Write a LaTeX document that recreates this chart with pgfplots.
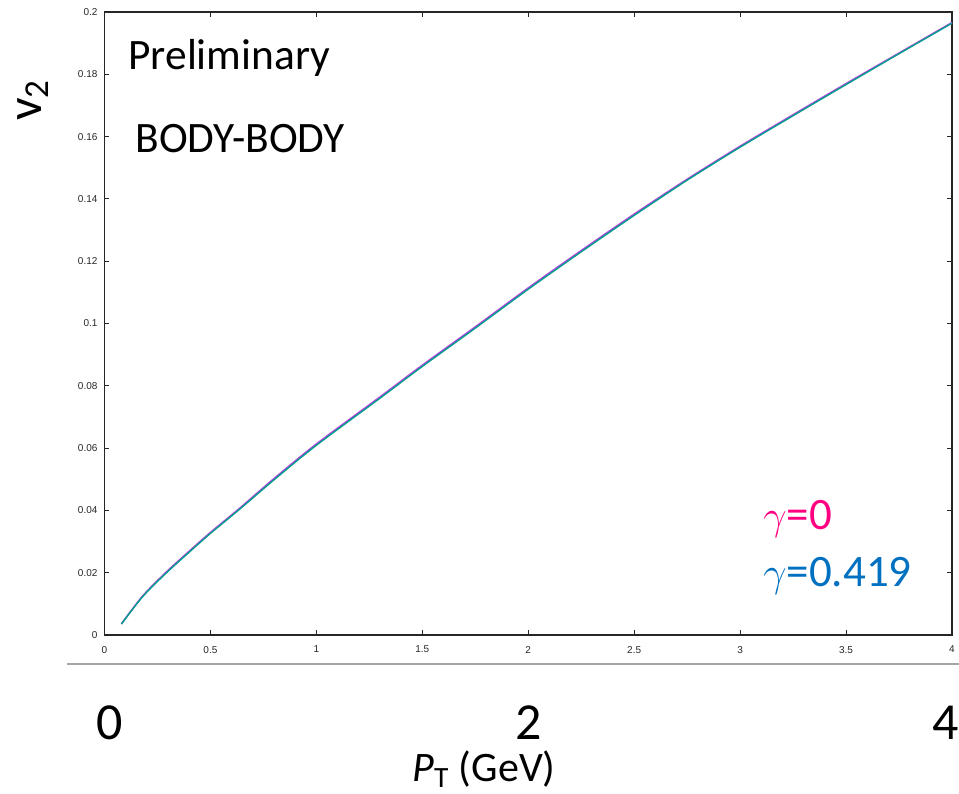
\documentclass[border=0pt]{standalone}
\usepackage{fontspec}
\setmainfont{Carlito}
\newfontfamily\helv{Liberation Sans}
\usepackage{pgfplots}
\pgfplotsset{compat=1.18}

\definecolor{gzero}{RGB}{176,64,224}
\definecolor{gfour}{RGB}{0,160,140}
\definecolor{lblpink}{RGB}{255,0,128}
\definecolor{lblblue}{RGB}{0,112,192}
\definecolor{axgray}{RGB}{38,38,38}

% gamma = 0.419 (teal)
\pgfplotstableread{
pt    v2
0.08  0.0035
0.18  0.0123
0.29  0.0198
0.40  0.0266
0.50  0.0326
0.64  0.0405
0.80  0.0498
1.00  0.0609
1.30  0.0760
1.50  0.0862
1.75  0.0985
2.00  0.1110
2.25  0.1230
2.50  0.1347
2.75  0.1460
3.00  0.1566
3.25  0.1667
3.50  0.1767
3.75  0.1866
4.00  0.1964
}\gfour

% gamma = 0 (purple), a hair above
\pgfplotstableread{
pt    v2
0.08  0.0036
0.18  0.0125
0.29  0.0201
0.40  0.0269
0.50  0.0329
0.64  0.0408
0.80  0.0502
1.00  0.0613
1.30  0.0764
1.50  0.0866
1.75  0.0989
2.00  0.1114
2.25  0.1234
2.50  0.1351
2.75  0.1463
3.00  0.1569
3.25  0.1670
3.50  0.1770
3.75  0.1868
4.00  0.1966
}\gzerotab

\begin{document}
\begin{tikzpicture}
\path[use as bounding box] (-52.25pt,-79pt) rectangle (427.25pt,317.5pt);
\begin{axis}[
  at={(0,0)}, anchor=south west,
  scale only axis, width=423.75pt, height=311.5pt,
  xmin=0, xmax=4, ymin=0, ymax=0.2,
  xtick={0,0.5,...,4}, ytick={0,0.02,...,0.2},
  scaled ticks=false,
  yticklabel style={/pgf/number format/fixed, /pgf/number format/precision=2},
  ticklabel style={font=\helv\fontsize{5}{6}\selectfont, text=axgray},
  /pgf/number format/assume math mode=true,
  xticklabel style={yshift=-2pt},
  tick align=inside, major tick length=2.5pt,
  axis line style={axgray, line width=0.6pt},
  every tick/.style={axgray, line width=0.5pt},
  clip=false]
  \addplot[gzero, line width=0.8pt, no marks, smooth] table[x=pt, y=v2] {\gzerotab};
  \addplot[gfour, line width=0.7pt, no marks, smooth] table[x=pt, y=v2] {\gfour};
\end{axis}
% annotations
\node[anchor=base west, font=\fontsize{21.7}{24}\selectfont, inner sep=0] at (11.75pt,282.5pt) {Preliminary};
\node[anchor=base west, font=\fontsize{21.7}{24}\selectfont, inner sep=0] at (15.25pt,241pt) {BODY-BODY};
\node[anchor=base west, font=\fontsize{22.5}{25}\selectfont, text=lblpink, inner sep=0] at (329.25pt,52.5pt) {$\gamma$=0};
\node[anchor=base west, font=\fontsize{22.5}{25}\selectfont, text=lblblue, inner sep=0] at (329.25pt,24.2pt) {$\gamma$=0.419};
\node[rotate=90, font=\fontsize{25}{27}\selectfont, inner sep=0] at (-35.75pt,267.5pt) {v\textsubscript{2}};
% lower axis overlay
\draw[gray!70, line width=1pt] (-18.75pt,-14.5pt) -- (427.25pt,-14.5pt);
\node[anchor=base, font=\fontsize{26}{28}\selectfont, inner sep=0] at (2.75pt,-52pt) {0};
\node[anchor=base, font=\fontsize{26}{28}\selectfont, inner sep=0] at (212.25pt,-52pt) {2};
\node[anchor=base east, font=\fontsize{26}{28}\selectfont, inner sep=0] at (427.25pt,-52pt) {4};
\node[anchor=base, font=\fontsize{21}{23}\selectfont, inner sep=0] at (189.75pt,-73.2pt) {\textit{P}\textsubscript{T} (GeV)};
\end{tikzpicture}
\end{document}
